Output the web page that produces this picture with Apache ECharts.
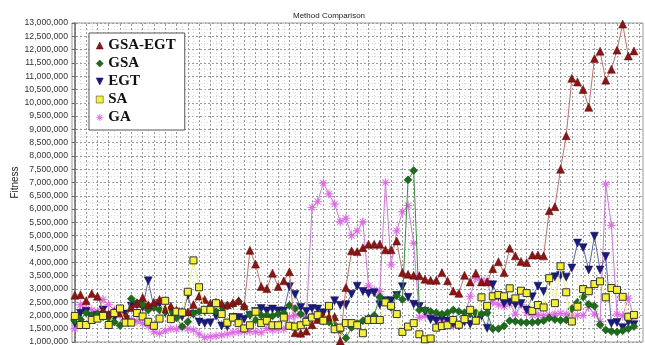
<!DOCTYPE html>
<html><head><meta charset="utf-8">
<script src="https://cdn.jsdelivr.net/npm/echarts@6/dist/echarts.min.js"></script>
<style>html,body{margin:0;padding:0;background:#fff}#c{width:645px;height:345px}</style>
</head><body><div id="c"></div>
<script>
const chartTitle = 'Method Comparison';
const yAxisName = 'Fitness';
const seriesNames = ['GSA-EGT', 'GSA', 'EGT', 'SA', 'GA'];

const gsaEgt = [2760000, 2780000, 2550000, 2820000, 2720000, 2200000, 2050000, 2150000, 2100000, 2000000,
 2300000, 2450000, 2670000, 2400000, 2500000, 2600000, 2250000, 2350000, 2200000, 2150000,
 2130000, 2410000, 2730000, 2600000, 2460000, 2500000, 2460000, 2400000, 2480000, 2550000,
 2360000, 4450000, 3930000, 3090000, 3010000, 3590000, 3090000, 3300000, 3640000, 1350000,
 1330000, 1410000, 1650000, 1850000, 2000000, 1950000, 1950000, 1040000, 3050000, 4430000,
 4400000, 4550000, 4680000, 4680000, 4680000, 4470000, 4470000, 4800000, 3610000, 3550000,
 3510000, 3490000, 3360000, 3320000, 3320000, 3610000, 3300000, 2920000, 2830000, 3510000,
 3260000, 3590000, 3260000, 3260000, 3760000, 4020000, 3610000, 4530000, 4240000, 4030000,
 3990000, 4270000, 4270000, 4240000, 5940000, 6090000, 7500000, 8760000, 10920000, 10780000,
 10500000, 9830000, 11660000, 11940000, 10850000, 11260000, 11980000, 12960000, 11760000, 11950000];

const gsa = [1800000, 1850000, 2100000, 2000000, 2050000, 1950000, 1900000, 1750000, 1620000, 1950000,
 2630000, 2480000, 2400000, 2200000, 2300000, 2200000, 2150000, 2100000, 1900000, 1580000,
 1760000, 2080000, 2150000, 2170000, 2240000, 2150000, 2200000, 2350000, 2430000, 2530000,
 2330000, 2030000, 1830000, 2010000, 2010000, 1980000, 2050000, 2090000, 2380000, 2260000,
 2050000, 1830000, 1950000, 1920000, 1800000, 1750000, 1650000, 1450000, 1150000, 1550000,
 1700000, 1800000, 1900000, 2000000, 2700000, 2550000, 2300000, 2750000, 2600000, 7100000,
 7450000, 2200000, 2200000, 2150000, 2100000, 2050000, 2100000, 2200000, 2150000, 2100000,
 2050000, 2100000, 2050000, 2100000, 1500000, 1500000, 1600000, 1800000, 1780000, 1740000,
 1730000, 1740000, 1760000, 1800000, 1900000, 1850000, 1820000, 1830000, 2250000, 2500000,
 2700000, 2420000, 2350000, 1650000, 1450000, 1400000, 1380000, 1420000, 1500000, 1580000];

const egt = [1700000, 2080000, 2150000, 1950000, 2000000, 2200000, 2000000, 1900000, 2200000, 2050000,
 2350000, 2400000, 2300000, 3300000, 2300000, 2450000, 2100000, 2000000, 2050000, 1950000,
 2750000, 2040000, 1750000, 1700000, 1720000, 1980000, 1600000, 1580000, 1920000, 1920000,
 1860000, 2000000, 2150000, 2260000, 2170000, 2240000, 2170000, 2170000, 3080000, 2790000,
 2300000, 2150000, 2260000, 2240000, 2100000, 2200000, 2550000, 2380000, 2400000, 2800000,
 3100000, 2900000, 2820000, 2850000, 2400000, 2550000, 2550000, 2750000, 3080000, 2680000,
 2420000, 2340000, 2150000, 1850000, 1790000, 1900000, 1790000, 1700000, 1600000, 1750000,
 1670000, 1850000, 1980000, 1520000, 3150000, 2700000, 2450000, 2500000, 2400000, 2450000,
 2200000, 2700000, 3100000, 2900000, 3300000, 3450000, 3500000, 3440000, 3780000, 4720000,
 4550000, 3710000, 4980000, 3710000, 4220000, 1700000, 1730000, 1540000, 1750000, 1650000];

const sa = [1980000, 1640000, 1640000, 1830000, 1880000, 1980000, 1640000, 2090000, 2260000, 1730000,
 1730000, 2090000, 1960000, 1760000, 1610000, 1880000, 2550000, 1860000, 2140000, 2110000,
 2890000, 4070000, 3060000, 2210000, 2210000, 2460000, 2050000, 1730000, 1920000, 1710000,
 1510000, 1630000, 2140000, 1710000, 1800000, 1630000, 1630000, 1920000, 1610000, 1580000,
 1630000, 1760000, 1920000, 2010000, 1800000, 2360000, 1480000, 1540000, 1710000, 1710000,
 1630000, 1330000, 1830000, 1830000, 1830000, 2490000, 2360000, 2050000, 1380000, 1580000,
 1710000, 1290000, 1100000, 1130000, 1540000, 1600000, 1630000, 1830000, 1650000, 1860000,
 2210000, 1800000, 2680000, 2360000, 2720000, 2770000, 2720000, 3020000, 2640000, 2930000,
 2840000, 2170000, 2390000, 2300000, 3400000, 2460000, 3850000, 2870000, 1770000, 2330000,
 2990000, 2910000, 3180000, 3280000, 2680000, 3030000, 2960000, 2700000, 1950000, 2020000];

const ga = [1500000, 2400000, 2250000, 2200000, 2150000, 2600000, 2400000, 2200000, 2000000, 1820000,
 1830000, 1780000, 1700000, 1600000, 1380000, 1320000, 1420000, 1500000, 1480000, 1550000,
 1500000, 1450000, 1300000, 1170000, 1200000, 1230000, 1260000, 1300000, 1360000, 1380000,
 1400000, 1400000, 1380000, 1350000, 1500000, 1450000, 1480000, 1480000, 1950000, 2000000,
 2020000, 1950000, 6060000, 6280000, 6980000, 6570000, 6190000, 5520000, 5650000, 5000000,
 5180000, 5520000, 3110000, 2950000, 2900000, 7000000, 3900000, 5180000, 5900000, 6130000,
 4720000, 1920000, 1980000, 1950000, 1920000, 1800000, 1700000, 1600000, 1650000, 1980000,
 2720000, 3400000, 3330000, 3300000, 2500000, 2400000, 2350000, 2450000, 2050000, 2400000,
 2100000, 2000000, 2020000, 2000000, 2020000, 2050000, 2080000, 2050000, 1980000, 2000000,
 2000000, 2300000, 2050000, 1770000, 6940000, 5390000, 2050000, 1980000, 2650000, 1930000];

const yMin = 1000000, yMax = 13000000, yStep = 500000;
const xMin = -0.5, xMax = 100.6;

function asteriskPath() {
  let d = 'path://';
  const n = 8;
  for (let k = 0; k < 2 * n; k++) {
    const r = k % 2 === 0 ? 10 : 2.6;
    const a = Math.PI * k / n - Math.PI / 2;
    d += (k ? 'L' : 'M') + (10 + r * Math.cos(a)).toFixed(2) + ',' + (10 + r * Math.sin(a)).toFixed(2);
  }
  return d + 'Z';
}
const invTri = 'path://M0,0L10,0L5,10Z';
const star = asteriskPath();

const styles = [
  {data: gsaEgt, symbol: 'triangle', size: 8, fill: '#8b1414', border: '#5a0a0a', line: '#c07070', z: 5},
  {data: gsa, symbol: 'diamond', size: 8, fill: '#1e6b1e', border: '#0f4a0f', line: '#3c8c3c', z: 4},
  {data: egt, symbol: invTri, size: 8, fill: '#1a1a7c', border: '#10104e', line: '#5866a6', z: 3},
  {data: sa, symbol: 'rect', size: 7, fill: '#f4f038', border: '#333', line: '#f2f07a', z: 6},
  {data: ga, symbol: star, size: 9, fill: '#e066e8', border: '#e066e8', line: '#cf78dc', z: 2}
];

const majorX = [], minorX = [];
for (let v = 0; v <= 100; v++) { (v % 2 === 0 ? majorX : minorX).push(v); }

const series = styles.map((s, k) => ({
  name: seriesNames[k],
  type: 'line',
  z: s.z,
  data: s.data.map((v, i) => [i, v]),
  symbol: s.symbol,
  symbolSize: s.size,
  showAllSymbol: true,
  lineStyle: {color: s.line, width: 1},
  itemStyle: {color: s.fill, borderColor: s.border, borderWidth: k === 3 ? 1 : 0.5},
  emphasis: {disabled: true},
  animation: false
}));

series.push({
  type: 'line', data: [], silent: true, z: 0,
  markLine: {
    silent: true, symbol: 'none', animation: false, z: 0,
    label: {show: false},
    data: majorX.map(v => ({xAxis: v, lineStyle: {color: '#9a9a9a', type: [2, 2], width: 1}}))
      .concat(minorX.map(v => ({xAxis: v, lineStyle: {color: '#d8d8d8', type: [1, 2], width: 1}})))
  }
});

const chart = echarts.init(document.getElementById('c'), null, {renderer: 'canvas'});
chart.setOption({
  animation: false,
  backgroundColor: '#fff',
  title: {
    text: chartTitle, left: 288, top: 7,
    textStyle: {fontFamily: 'Liberation Sans', fontSize: 8, fontWeight: 'normal', color: '#222'}
  },
  grid: {left: 72, right: 2, top: 23, bottom: 3, show: true, borderColor: '#999', borderWidth: 1,
    backgroundColor: 'transparent', containLabel: false, outerBoundsMode: 'none'},
  legend: {
    orient: 'vertical', left: 89, top: 33, padding: [5, 9, 5, 7], itemGap: 3,
    itemWidth: 7, itemHeight: 7, backgroundColor: '#fff', borderColor: '#555', borderWidth: 1,
    textStyle: {fontFamily: 'Liberation Serif', fontWeight: 'bold', fontSize: 15, lineHeight: 15, color: '#111'},
    itemStyle: {borderWidth: 0.5},
    data: [
      {name: 'GSA-EGT', icon: 'triangle'},
      {name: 'GSA', icon: 'diamond'},
      {name: 'EGT', icon: invTri},
      {name: 'SA', icon: 'rect'},
      {name: 'GA', icon: star}
    ]
  },
  xAxis: {
    type: 'value', min: xMin, max: xMax,
    axisLabel: {show: false}, axisTick: {show: false}, axisLine: {show: false}, splitLine: {show: false}
  },
  yAxis: {
    type: 'value', min: yMin, max: yMax, interval: yStep,
    name: yAxisName, nameLocation: 'middle', nameGap: 52, nameMoveOverlap: false,
    nameTextStyle: {fontFamily: 'Liberation Sans', fontSize: 10, color: '#222'},
    axisLine: {show: true, lineStyle: {color: '#666', width: 1.5}},
    axisTick: {show: true, length: 3, lineStyle: {color: '#666'}},
    axisLabel: {fontFamily: 'Liberation Sans', fontSize: 8.7, color: '#333', margin: 4,
      formatter: v => v.toLocaleString('en-US')},
    splitLine: {show: true, lineStyle: {color: '#9a9a9a', type: [2, 2], width: 1}},
    minorTick: {show: false, splitNumber: 2},
    minorSplitLine: {show: true, lineStyle: {color: '#d8d8d8', type: [1, 2], width: 1}}
  },
  series: series
});
</script>
</body></html>
